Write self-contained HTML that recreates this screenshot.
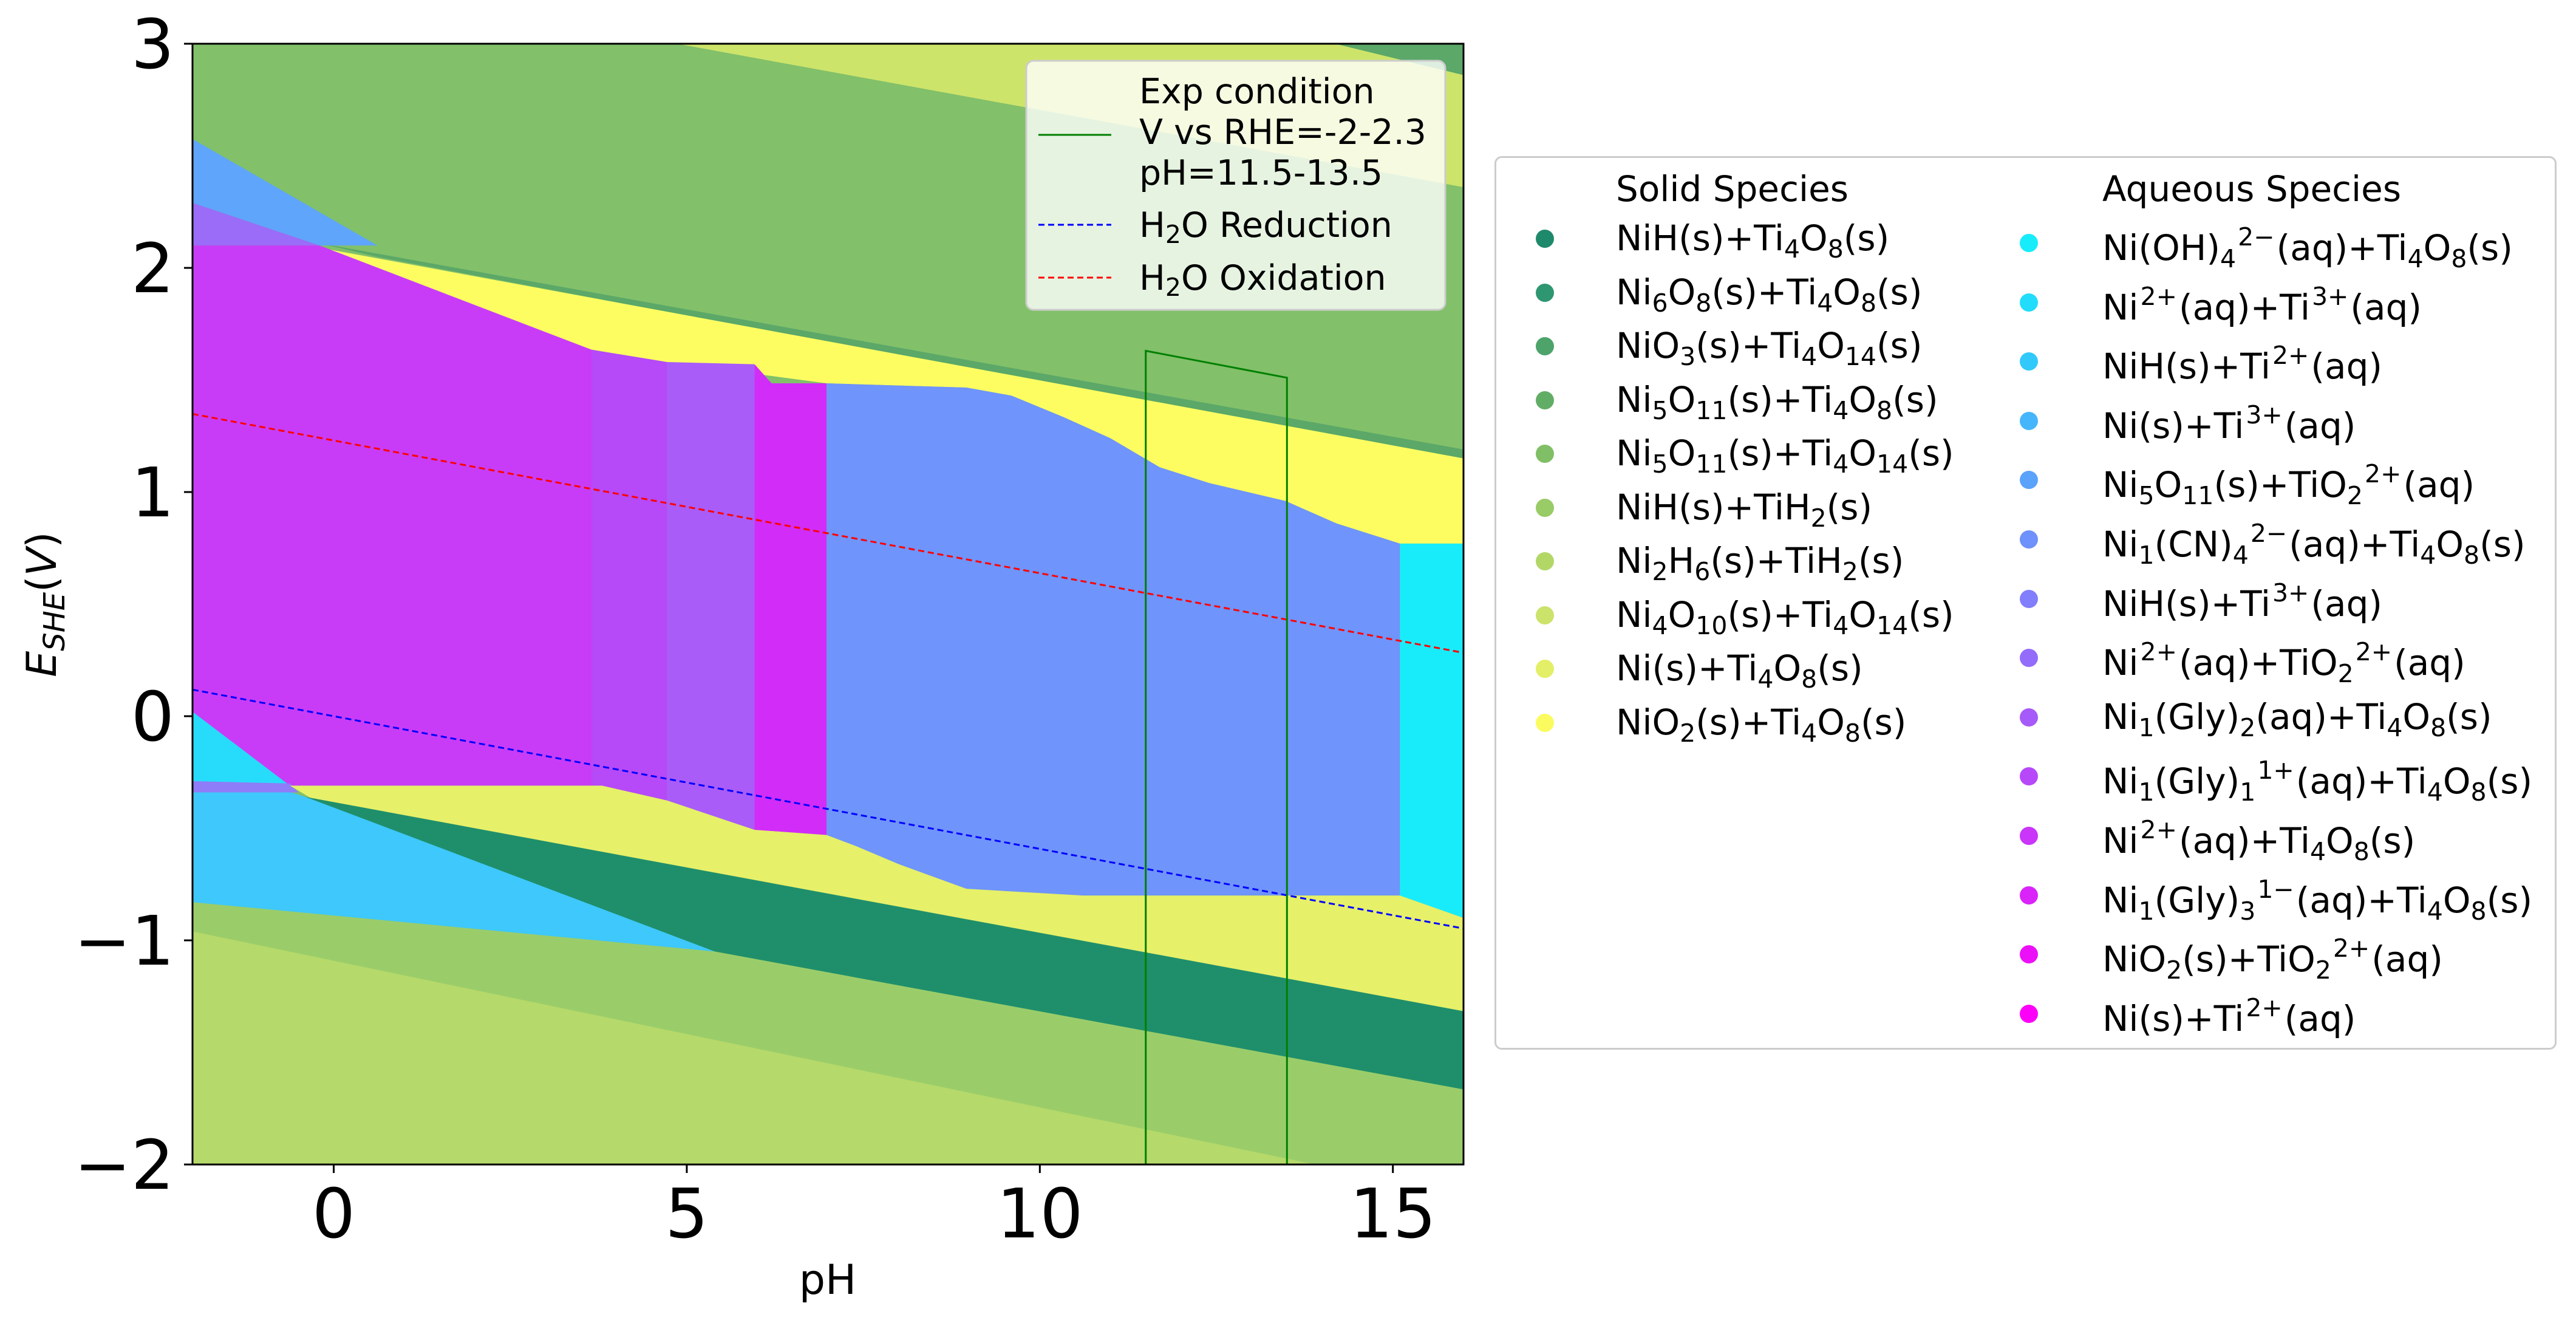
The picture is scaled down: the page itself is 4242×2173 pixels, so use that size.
<!DOCTYPE html>
<html><head><meta charset="utf-8">
<style>
body{margin:0;background:#fff;width:4242px;height:2173px;overflow:hidden;font-family:"DejaVu Sans","Liberation Sans",sans-serif;}
#chart{position:absolute;left:0;top:0;}
.leg{position:absolute;font-size:58px;color:#000;white-space:nowrap;line-height:1;}
.leg sub{font-size:41px;vertical-align:-12px;}
.leg sup{font-size:41px;vertical-align:24px;margin-left:3px;margin-right:3px;}
.dot{position:absolute;width:30px;height:30px;border-radius:50%;}
</style></head><body>
<svg id="chart" width="4242" height="2173" xmlns="http://www.w3.org/2000/svg">
<defs><clipPath id="pc"><rect x="317" y="72" width="2093" height="1845"/></clipPath></defs>
<g id="regions" clip-path="url(#pc)"></g>
<g id="lines" clip-path="url(#pc)"></g>
<rect x="317" y="72" width="2093" height="1845" fill="none" stroke="#000" stroke-width="3"/>
<g id="axes" font-family="DejaVu Sans, Liberation Sans, sans-serif"></g>
<text x="1363" y="2130" font-size="68" text-anchor="middle">pH</text>
<text transform="translate(92,995) rotate(-90)" font-size="68" text-anchor="middle" font-style="italic">E<tspan font-size="48" dy="14">SHE</tspan><tspan dy="-14" font-style="normal">(</tspan>V<tspan font-style="normal">)</tspan></text>
<g>
<rect x="1690" y="100" width="690" height="410" rx="12" fill="#fff" fill-opacity="0.8" stroke="#ccc" stroke-width="3"/>
<line x1="1710" y1="222" x2="1830" y2="222" stroke="#008000" stroke-width="3"/>
<text x="1876" y="170" font-size="57">Exp condition</text>
<text x="1876" y="237" font-size="57">V vs RHE=-2-2.3</text>
<text x="1876" y="304" font-size="57">pH=11.5-13.5</text>
<line x1="1710" y1="370" x2="1830" y2="370" stroke="#00f" stroke-width="3" stroke-dasharray="10 6"/>
<text x="1876" y="390" font-size="57">H<tspan font-size="41" dy="10">2</tspan><tspan dy="-10">O Reduction</tspan></text>
<line x1="1710" y1="457" x2="1830" y2="457" stroke="#f00" stroke-width="3" stroke-dasharray="10 6"/>
<text x="1876" y="477" font-size="57">H<tspan font-size="41" dy="10">2</tspan><tspan dy="-10">O Oxidation</tspan></text>
</g>
</svg>
<div style="position:absolute;left:2461px;top:257px;width:1749px;height:1471px;border:3px solid #ccc;border-radius:12px;box-sizing:border-box;"></div>
<div id="legwrap"></div>
<script>
const xMin=-2,xMax=16,yMin=-2,yMax=3;
const L=317,R=2410,T=72,B=1917;
function X(p){return L+(p-xMin)/(xMax-xMin)*(R-L);}
function Y(e){return B-(e-yMin)/(yMax-yMin)*(B-T);}
const xTicks=[0,5,10,15];
const yTicks=[-2,-1,0,1,2,3];
const regionNames=['bg-green','top-band','top-dark','strip','nio2-yellow','left-blue','left-lavender','magenta','gly1','gly2','gly3','cn-blue','right-cyan','left-cyan','lav-strip','light-blue','ni-yellow','nih-darkgreen','nih-tih2','ni2h6'];
const regionColors=['#82c06a','#cde46a','#5ba868','#5ba868','#fdfd62','#5ea5fb','#9a6cf8','#c83cf8','#b649f8','#a95cf8','#d22cf8','#6f94fb','#18ecfb','#27dcfb','#8f7cf8','#3ec8fb','#e6f069','#1f8f6b','#9acd6a','#b5d96a'];
const regionPts=[
[[-2,3],[16,3],[16,-2],[-2,-2]],
[[4.86,3],[16,3],[16,2.36]],
[[14.18,3],[16,3],[16,2.86]],
[[-0.2,2.11],[16,1.19],[16,1.13],[0.6,2.05]],
[[-0.2,2.09],[16,1.15],[16,0.77],[15.1,0.77],[14.2,0.86],[13.48,0.96],[12.4,1.04],[11.7,1.11],[11.0,1.24],[10.33,1.335],[9.6,1.43],[8.96,1.466],[6.98,1.485],[4.72,1.58],[3.65,1.635]],
[[-2,2.575],[0.62,2.10],[-0.2,2.10],[-2,2.29]],
[[-2,2.29],[-0.2,2.10],[-2,2.10]],
[[-2,2.10],[-0.2,2.10],[3.65,1.635],[3.65,-0.31],[-2,-0.31]],
[[3.65,1.635],[4.72,1.58],[4.72,-0.376],[3.8,-0.31],[3.65,-0.31]],
[[4.72,1.58],[5.96,1.57],[5.96,-0.507],[4.72,-0.376]],
[[5.96,1.57],[6.2,1.485],[6.98,1.485],[6.98,-0.53],[5.96,-0.507]],
[[6.98,1.485],[8.96,1.466],[9.6,1.43],[10.33,1.335],[11.0,1.24],[11.7,1.11],[12.4,1.04],[13.48,0.96],[14.2,0.86],[15.1,0.77],[15.1,-0.80],[10.6,-0.80],[8.96,-0.77],[8.0,-0.66],[7.4,-0.58],[6.98,-0.53]],
[[15.1,0.77],[16,0.77],[16,-0.90],[15.1,-0.80]],
[[-2,0.02],[-0.62,-0.31],[-2,-0.31]],
[[-2,-0.29],[-0.62,-0.30],[-0.5,-0.34],[-2,-0.34]],
[[-2,-0.34],[-0.6,-0.34],[-0.2,-0.38],[5.4,-1.05],[-2,-0.83]],
[[-0.62,-0.31],[3.8,-0.31],[4.72,-0.376],[5.96,-0.507],[6.98,-0.53],[7.4,-0.58],[8.0,-0.66],[8.96,-0.77],[10.6,-0.80],[15.1,-0.80],[16,-0.90],[16,-1.32],[-0.3,-0.37]],
[[-0.4,-0.36],[16,-1.316],[16,-1.67],[5.4,-1.05]],
[[-2,-0.83],[5.4,-1.05],[16,-1.665],[16,-2],[13.9,-2],[-2,-0.96]],
[[-2,-0.96],[13.9,-2],[-2,-2]]
];
const expPH=[11.5,13.5];
const expTop=[1.63,1.51];
const NS='http://www.w3.org/2000/svg';
const rg=document.getElementById('regions');
regionPts.forEach((pts,i)=>{
  const p=document.createElementNS(NS,'polygon');
  p.setAttribute('points',pts.map(q=>X(q[0])+','+Y(q[1])).join(' '));
  p.setAttribute('fill',regionColors[i]);
  
  
  rg.appendChild(p);
});
const lg=document.getElementById('lines');
function dline(f,col,name){
  const l=document.createElementNS(NS,'line');
  l.setAttribute('x1',X(xMin));l.setAttribute('y1',Y(f(xMin)));
  l.setAttribute('x2',X(xMax));l.setAttribute('y2',Y(f(xMax)));
  l.setAttribute('stroke',col);l.setAttribute('stroke-width','3');l.setAttribute('stroke-dasharray','10 6');
  
  
  lg.appendChild(l);
}
dline(p=>1.23-0.0592*p,'#f00','h2o-oxidation-line');
dline(p=>-0.0592*p,'#00f','h2o-reduction-line');
const ex=document.createElementNS(NS,'polyline');
ex.setAttribute('points',[[expPH[0],yMin],[expPH[0],expTop[0]],[expPH[1],expTop[1]],[expPH[1],yMin]].map(q=>X(q[0])+','+Y(q[1])).join(' '));
ex.setAttribute('fill','none');ex.setAttribute('stroke','#008000');ex.setAttribute('stroke-width','3');


lg.appendChild(ex);
const ax=document.getElementById('axes');
xTicks.forEach(v=>{
  const t=document.createElementNS(NS,'line');
  t.setAttribute('x1',X(v));t.setAttribute('x2',X(v));t.setAttribute('y1',B);t.setAttribute('y2',B+14);t.setAttribute('stroke','#000');t.setAttribute('stroke-width','3');
  ax.appendChild(t);
  const s=document.createElementNS(NS,'text');
  s.setAttribute('x',X(v));s.setAttribute('y',B+120);s.setAttribute('font-size','112');s.setAttribute('text-anchor','middle');
  s.textContent=String(v);
  
  
  ax.appendChild(s);
});
yTicks.forEach(v=>{
  const t=document.createElementNS(NS,'line');
  t.setAttribute('x1',L-14);t.setAttribute('x2',L);t.setAttribute('y1',Y(v));t.setAttribute('y2',Y(v));t.setAttribute('stroke','#000');t.setAttribute('stroke-width','3');
  ax.appendChild(t);
  const s=document.createElementNS(NS,'text');
  s.setAttribute('x',L-30);s.setAttribute('y',Y(v)+40);s.setAttribute('font-size','112');s.setAttribute('text-anchor','end');
  s.textContent=v<0?'\u2212'+Math.abs(v):String(v);
  
  
  ax.appendChild(s);
});
</script>
<div class="leg" style="left:2661px;top:282px;">Solid Species</div>
<div class="leg" style="left:3462px;top:282px;">Aqueous Species</div>
<script>
const solidLabels=['NiH(s)+Ti<sub>4</sub>O<sub>8</sub>(s)','Ni<sub>6</sub>O<sub>8</sub>(s)+Ti<sub>4</sub>O<sub>8</sub>(s)','NiO<sub>3</sub>(s)+Ti<sub>4</sub>O<sub>14</sub>(s)','Ni<sub>5</sub>O<sub>11</sub>(s)+Ti<sub>4</sub>O<sub>8</sub>(s)','Ni<sub>5</sub>O<sub>11</sub>(s)+Ti<sub>4</sub>O<sub>14</sub>(s)','NiH(s)+TiH<sub>2</sub>(s)','Ni<sub>2</sub>H<sub>6</sub>(s)+TiH<sub>2</sub>(s)','Ni<sub>4</sub>O<sub>10</sub>(s)+Ti<sub>4</sub>O<sub>14</sub>(s)','Ni(s)+Ti<sub>4</sub>O<sub>8</sub>(s)','NiO<sub>2</sub>(s)+Ti<sub>4</sub>O<sub>8</sub>(s)'];
const solidColors=['#1f8a6b','#2e9670','#4da36a','#62ad66','#80bf66','#99cb66','#b3d767','#cbe36a','#e3ef66','#fbfb60'];
const aqLabels=['Ni(OH)<sub>4</sub><sup>2&#8722;</sup>(aq)+Ti<sub>4</sub>O<sub>8</sub>(s)','Ni<sup>2+</sup>(aq)+Ti<sup>3+</sup>(aq)','NiH(s)+Ti<sup>2+</sup>(aq)','Ni(s)+Ti<sup>3+</sup>(aq)','Ni<sub>5</sub>O<sub>11</sub>(s)+TiO<sub>2</sub><sup>2+</sup>(aq)','Ni<sub>1</sub>(CN)<sub>4</sub><sup>2&#8722;</sup>(aq)+Ti<sub>4</sub>O<sub>8</sub>(s)','NiH(s)+Ti<sup>3+</sup>(aq)','Ni<sup>2+</sup>(aq)+TiO<sub>2</sub><sup>2+</sup>(aq)','Ni<sub>1</sub>(Gly)<sub>2</sub>(aq)+Ti<sub>4</sub>O<sub>8</sub>(s)','Ni<sub>1</sub>(Gly)<sub>1</sub><sup>1+</sup>(aq)+Ti<sub>4</sub>O<sub>8</sub>(s)','Ni<sup>2+</sup>(aq)+Ti<sub>4</sub>O<sub>8</sub>(s)','Ni<sub>1</sub>(Gly)<sub>3</sub><sup>1&#8722;</sup>(aq)+Ti<sub>4</sub>O<sub>8</sub>(s)','NiO<sub>2</sub>(s)+TiO<sub>2</sub><sup>2+</sup>(aq)','Ni(s)+Ti<sup>2+</sup>(aq)'];
const aqColors=['#17ecfb','#22dcfb','#31c9fb','#45b6fb','#5aa3fb','#6e91fb','#817ffb','#946cfb','#a65af9','#b748f9','#c935f9','#da23f9','#ec10f9','#fd00f9'];
const w=document.getElementById('legwrap');
function addEntry(lbl,col,mx,tx,cy,nm){
  const d=document.createElement('div');d.className='dot';
  d.style.left=(mx-15)+'px';d.style.top=(cy-15)+'px';d.style.background=col;
  
  
  w.appendChild(d);
  const t=document.createElement('div');t.className='leg';
  t.style.left=tx+'px';t.style.top=(cy-30)+'px';t.innerHTML=lbl;
  
  
  w.appendChild(t);
}
solidLabels.forEach((l,i)=>addEntry(l,solidColors[i],2544,2661,393+i*88.5,'legend-entry-solid'));
aqLabels.forEach((l,i)=>addEntry(l,aqColors[i],3341,3462,400+i*97.6,'legend-entry-aqueous'));
</script>
</body></html>
